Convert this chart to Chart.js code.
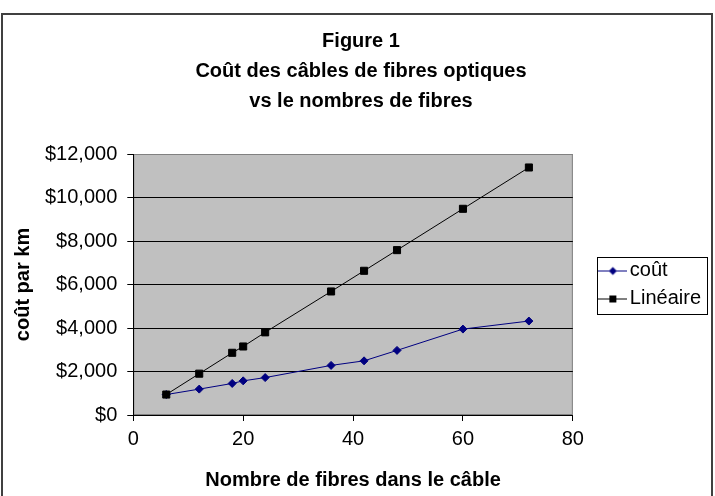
<!DOCTYPE html>
<html>
<head>
<meta charset="utf-8">
<script src="https://cdn.jsdelivr.net/npm/chart.js@4.4.0/dist/chart.umd.min.js"></script>
<style>
  body { margin: 0; background: #fff; }
  #wrap { width: 715px; height: 496px; }
</style>
</head>
<body>
<div id="wrap"><canvas id="fibres"></canvas></div>
<script>
var fibres = [6, 12, 18, 20, 24, 36, 42, 48, 60, 72];
var cout = [940, 1190, 1450, 1570, 1720, 2280, 2490, 2970, 3950, 4320];
var lineaire = [940, 1900, 2860, 3150, 3800, 5680, 6630, 7580, 9480, 11380];
var seriesNames = ["coût", "Linéaire"];
var titleLines = ["Figure 1", "Coût des câbles de fibres optiques", "vs le nombres de fibres"];

var FONT = "Liberation Sans, Arial, sans-serif";
var ICON_W = 39; // space kept for the legend icon

function pts(ys) {
  return fibres.map(function(x, i) { return { x: x, y: ys[i] }; });
}

// legend icon: line with the marker in the middle, drawn in the right part of a wide canvas
function legendIcon(color, shape) {
  var c = document.createElement("canvas");
  c.width = 54; c.height = 12;
  var g = c.getContext("2d");
  g.strokeStyle = color; g.lineWidth = 1;
  g.beginPath(); g.moveTo(24, 6.5); g.lineTo(54, 6.5); g.stroke();
  g.fillStyle = color;
  if (shape == "rect") {
    g.fillRect(36, 3, 7, 7);
  } else {
    g.beginPath();
    g.moveTo(39.5, 2.5); g.lineTo(43.5, 6.5); g.lineTo(39.5, 10.5); g.lineTo(35.5, 6.5);
    g.closePath(); g.fill();
  }
  return c;
}

var plotBg = {
  id: "plotBg",
  beforeDraw: function(chart) {
    var ctx = chart.ctx, a = chart.chartArea;
    ctx.save();
    ctx.strokeStyle = "#404040"; ctx.lineWidth = 2;
    ctx.strokeRect(2, 14, 710, 500);
    ctx.fillStyle = "#c0c0c0";
    ctx.fillRect(a.left, a.top, a.right - a.left, a.bottom - a.top);
    ctx.strokeStyle = "#808080"; ctx.lineWidth = 1;
    ctx.strokeRect(a.left + 0.5, a.top + 0.5, a.right - a.left - 1, a.bottom - a.top - 1);
    ctx.restore();
  },
  afterDraw: function(chart) {
    var hb = chart.legend.legendHitBoxes, ctx = chart.ctx;
    if (!hb || !hb.length) return;
    var x0 = hb[0].left + ICON_W + 10 - 33;
    var x1 = 0;
    hb.forEach(function(b) { x1 = Math.max(x1, b.left + b.width); });
    var y0 = hb[0].top - 4;
    var y1 = hb[hb.length - 1].top + hb[hb.length - 1].height + 5;
    ctx.save();
    ctx.strokeStyle = "#000"; ctx.lineWidth = 1;
    ctx.strokeRect(Math.round(x0) + 0.5, Math.round(y0) + 0.5, Math.round(x1 + 6 - x0), Math.round(y1 - y0));
    ctx.restore();
  }
};

var ctx = document.getElementById("fibres").getContext("2d");
var chart = new Chart(ctx, {
  type: "line",
  data: {
    datasets: [
      {
        label: seriesNames[0],
        data: pts(cout),
        borderColor: "#000080",
        backgroundColor: "#000080",
        borderWidth: 1,
        pointStyle: "rectRot",
        pointRadius: 4,
        pointHoverRadius: 4,
        order: 1,
        legendIcon: legendIcon("#000080", "diamond")
      },
      {
        label: seriesNames[1],
        data: pts(lineaire),
        borderColor: "#000",
        backgroundColor: "#000",
        borderWidth: 1,
        pointStyle: "rect",
        pointRadius: 5,
        pointHoverRadius: 5,
        order: 0,
        legendIcon: legendIcon("#000", "rect")
      }
    ]
  },
  options: {
    responsive: true,
    maintainAspectRatio: false,
    animation: false,
    layout: { padding: { top: 26, left: 11, right: 4, bottom: 4 } },
    plugins: {
      title: {
        display: true,
        text: titleLines,
        color: "#000",
        font: { family: FONT, size: 20, weight: "bold", lineHeight: 1.5 },
        padding: { top: 0, bottom: 38 }
      },
      legend: {
        position: "right",
        // empty title only pushes the entries down to the middle of the plot
        title: { display: true, text: " ", font: { size: 5, lineHeight: 1.2 }, padding: { top: 45, bottom: 0 } },
        labels: {
          usePointStyle: true,
          pointStyleWidth: ICON_W,
          padding: 8,
          color: "#000",
          font: { family: FONT, size: 20 },
          generateLabels: function(chart) {
            return chart.data.datasets.map(function(ds, i) {
              return { text: ds.label, pointStyle: ds.legendIcon, datasetIndex: i, fontColor: "#000",
                lineWidth: 0, strokeStyle: "transparent", fillStyle: "transparent" };
            });
          }
        }
      },
      tooltip: { enabled: false }
    },
    scales: {
      x: {
        type: "linear",
        min: 0,
        max: 80,
        ticks: { stepSize: 20, color: "#000", padding: 6, font: { family: FONT, size: 20 } },
        grid: { drawOnChartArea: false, drawTicks: true, tickLength: 6, color: "#000" },
        border: { color: "#000", width: 1 },
        title: { display: true, text: "Nombre de fibres dans le câble", color: "#000", padding: { top: 11, bottom: 0 },
          font: { family: FONT, size: 20, weight: "bold" } }
      },
      y: {
        min: 0,
        max: 12000,
        ticks: {
          stepSize: 2000, color: "#000", padding: 10,
          font: { family: FONT, size: 20 },
          callback: function(v) { return "$" + v.toLocaleString("en-US"); }
        },
        grid: {
          color: function(c) { return c.tick && c.tick.value == 12000 ? "#808080" : "#000"; },
          tickColor: "#000",
          tickLength: 6
        },
        border: { color: "#000", width: 1 },
        title: { display: true, text: "coût par km", color: "#000", padding: { top: 0, bottom: 0 },
          font: { family: FONT, size: 20, weight: "bold" } }
      }
    }
  },
  plugins: [plotBg]
});
</script>
</body>
</html>
